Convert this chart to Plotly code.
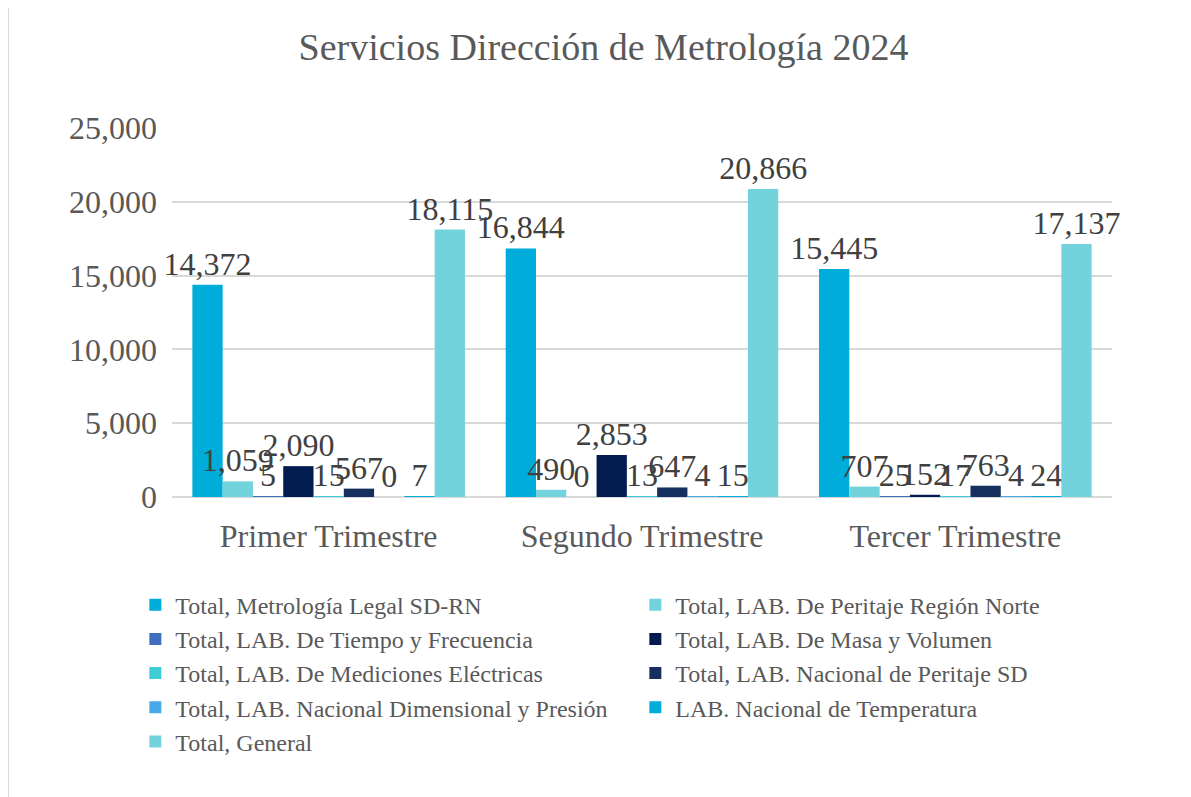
import plotly.graph_objects as go

# Quarters (x categories)
quarters = ["Primer Trimestre", "Segundo Trimestre", "Tercer Trimestre"]

# Series names, in legend order
series_names = [
    "Total, Metrología Legal SD-RN",
    "Total, LAB. De Peritaje Región Norte",
    "Total, LAB. De Tiempo y Frecuencia",
    "Total, LAB. De Masa y Volumen",
    "Total, LAB. De Mediciones Eléctricas",
    "Total, LAB. Nacional de Peritaje SD",
    "Total, LAB. Nacional Dimensional y Presión",
    "LAB. Nacional de Temperatura",
    "Total, General",
]

# Values per series (one per quarter)
metrologia_legal = [14372, 16844, 15445]
peritaje_norte = [1059, 490, 707]
tiempo_frecuencia = [5, 0, 25]
masa_volumen = [2090, 2853, 152]
mediciones_electricas = [15, 13, 17]
peritaje_sd = [567, 647, 763]
dimensional_presion = [0, 4, 4]
temperatura = [7, 15, 24]
total_general = [18115, 20866, 17137]

series_values = [
    metrologia_legal, peritaje_norte, tiempo_frecuencia, masa_volumen,
    mediciones_electricas, peritaje_sd, dimensional_presion, temperatura,
    total_general,
]

colors = [
    "#00ADDA", "#72D3DC", "#3F6FBF", "#021C50", "#3ECDD5",
    "#15305F", "#47A9E8", "#00ACDA", "#72D3DC",
]

SERIF = "Liberation Serif, Times New Roman, serif"

fig = go.Figure()

for name, vals, col in zip(series_names, series_values, colors):
    fig.add_trace(go.Bar(
        x=quarters,
        y=vals,
        name=name,
        marker=dict(color=col, line=dict(width=0)),
        text=[f"{v:,}" for v in vals],
        textposition="outside",
        textfont=dict(family=SERIF, size=32, color="#404040"),
        constraintext="none",
        cliponaxis=False,
    ))

fig.update_layout(
    width=1191,
    height=797,
    paper_bgcolor="white",
    plot_bgcolor="white",
    barmode="group",
    bargap=0.13,
    bargroupgap=0,
    margin=dict(l=164, r=87, t=120, b=308),
    title=dict(
        text="Servicios Dirección de Metrología 2024",
        x=0.5,
        xanchor="center",
        y=0.952,
        yanchor="middle",
        font=dict(family=SERIF, size=38, color="#595959"),
    ),
    font=dict(family=SERIF, color="#595959"),
    legend=dict(
        orientation="h",
        x=-0.039,
        xanchor="left",
        y=-0.232,
        yanchor="top",
        entrywidth=455,
        entrywidthmode="pixels",
        font=dict(family=SERIF, size=24, color="#595959"),
        itemwidth=30,
    ),
    showlegend=True,
)

fig.update_yaxes(
    range=[0, 25000],
    dtick=5000,
    tickformat=",",
    showgrid=True,
    gridcolor="#D9D9D9",
    gridwidth=2,
    zeroline=True,
    zerolinecolor="#D9D9D9",
    zerolinewidth=2,
    tickfont=dict(family=SERIF, size=32, color="#595959"),
    ticklabelstandoff=14,
)

fig.update_xaxes(
    showgrid=False,
    showline=False,
    tickfont=dict(family=SERIF, size=32, color="#595959"),
    ticklabelstandoff=17,
)

# light outer border of the chart area
fig.add_shape(
    type="rect", xref="paper", yref="paper",
    x0=-0.1745, x1=1.10, y0=-0.86, y1=1.333,
    line=dict(color="#D9D9D9", width=2),
    fillcolor="rgba(0,0,0,0)",
)

fig.write_html("out.html")
